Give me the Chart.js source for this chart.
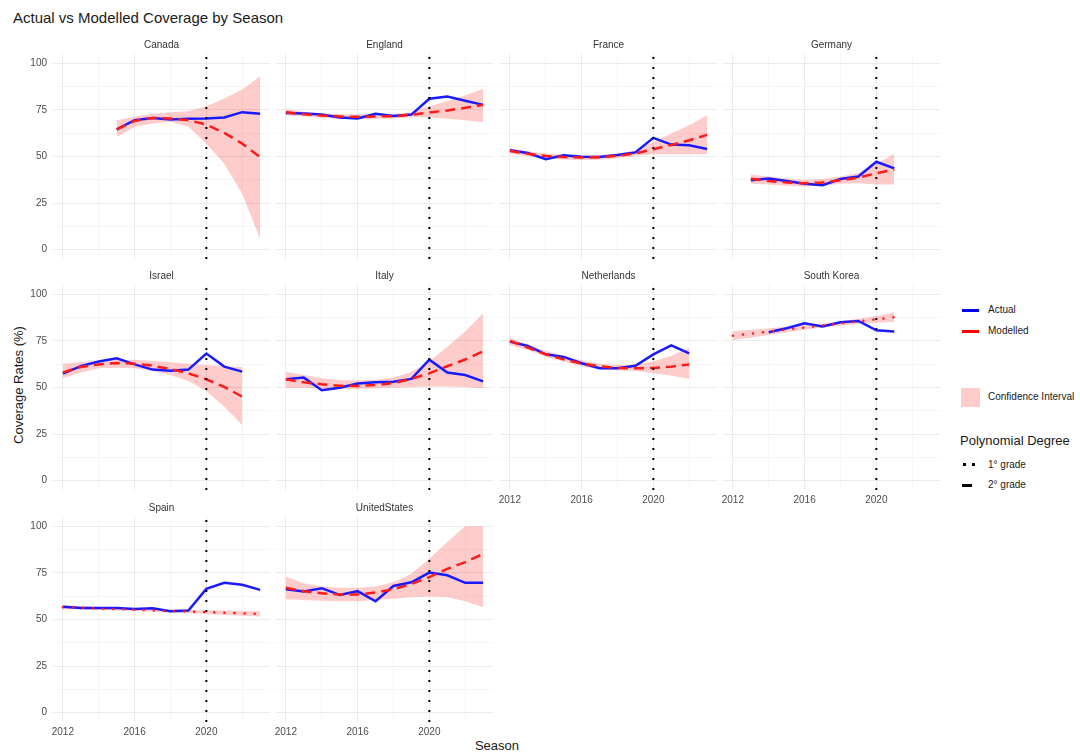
<!DOCTYPE html>
<html>
<head>
<meta charset="utf-8">
<script src="https://cdn.jsdelivr.net/npm/chart.js@4.4.1/dist/chart.umd.min.js"></script>
<style>
  body { margin: 0; background: #fff; font-family: "Liberation Sans", Arial, sans-serif; }
  #wrap { position: relative; width: 1080px; height: 752px; overflow: hidden; }
  canvas { position: absolute; }
  .txt { position: absolute; white-space: nowrap; color: #1a1a1a; }
  .lab { position: absolute; white-space: nowrap; font-size: 10px; color: #1a1a1a; line-height: 12px; }
</style>
</head>
<body>
<div id="wrap">
  <div class="txt" style="left:13px; top:9px; font-size:15px; line-height:18px;">Actual vs Modelled Coverage by Season</div>
  <div class="txt" style="left:18px; top:385px; font-size:13px; line-height:15px; transform:translate(-50%,-50%) rotate(-90deg);">Coverage Rates (%)</div>
  <div class="txt" style="left:497px; top:745px; font-size:13px; line-height:15px; transform:translate(-50%,-50%);">Season</div>

  <div style="position:absolute; left:962px; top:309px; width:17px; height:2.5px; background:#0000ff;"></div>
  <div class="lab" style="left:988px; top:304px;">Actual</div>
  <div style="position:absolute; left:962px; top:330px; width:17px; height:2.5px; background:#ff0000;"></div>
  <div class="lab" style="left:988px; top:325px;">Modelled</div>
  <div style="position:absolute; left:961px; top:388px; width:19px; height:19px; background:rgba(255,0,0,0.2);"></div>
  <div class="lab" style="left:988px; top:391px;">Confidence Interval</div>
  <div class="txt" style="left:960px; top:433px; font-size:13px; line-height:16px;">Polynomial Degree</div>
  <div style="position:absolute; left:963px; top:463px; width:2.5px; height:2.5px; background:#000;"></div>
  <div style="position:absolute; left:972px; top:463px; width:2.5px; height:2.5px; background:#000;"></div>
  <div class="lab" style="left:988px; top:459px;">1° grade</div>
  <div style="position:absolute; left:962px; top:484px; width:10px; height:2.5px; background:#000;"></div>
  <div class="lab" style="left:988px; top:479px;">2° grade</div>
</div>
<script>
// seasons and values
const canadaSeasons = [2015, 2016, 2017, 2018, 2019, 2020, 2021, 2022, 2023];
const canadaActual = [64.6, 69.5, 70.6, 69.8, 70.2, 70.4, 70.9, 73.8, 72.9];
const canadaModelled = [64.6, 69.1, 70.7, 70.4, 69.5, 67.1, 62.7, 56.9, 49.7];
const canadaLower = [60.5, 65.9, 67.7, 68.6, 65.9, 56.9, 46.1, 30.0, 5.7];
const canadaUpper = [69.5, 71.3, 73.0, 73.8, 74.3, 77.0, 81.1, 86.0, 93.0];

const englandSeasons = [2012, 2013, 2014, 2015, 2016, 2017, 2018, 2019, 2020, 2021, 2022, 2023];
const englandActual = [73.4, 73.1, 72.5, 70.9, 70.4, 72.9, 71.8, 72.5, 81.0, 82.2, 79.9, 77.7];
const englandModelled = [73.8, 72.7, 72.0, 71.5, 71.3, 71.5, 71.6, 72.4, 73.6, 74.7, 76.1, 77.7];
const englandLower = [72.2, 71.4, 70.8, 70.3, 70.1, 70.3, 70.4, 71.0, 70.9, 70.2, 69.5, 68.4];
const englandUpper = [75.4, 74.0, 73.2, 72.7, 72.5, 72.7, 72.8, 73.8, 77.0, 79.7, 82.8, 86.4];

const franceSeasons = [2012, 2013, 2014, 2015, 2016, 2017, 2018, 2019, 2020, 2021, 2022, 2023];
const franceActual = [53.3, 51.9, 48.5, 50.6, 49.9, 49.7, 50.8, 52.2, 60.0, 56.4, 56.0, 54.0];
const franceModelled = [53.0, 51.5, 50.3, 49.7, 49.4, 49.6, 50.3, 51.7, 53.9, 56.2, 58.7, 61.6];
const franceLower = [51.6, 50.2, 49.0, 48.4, 48.1, 48.3, 49.0, 50.4, 51.2, 51.2, 51.2, 51.2];
const franceUpper = [54.4, 52.8, 51.6, 51.0, 50.7, 50.9, 51.6, 53.2, 57.8, 62.3, 66.8, 72.2];

const germanySeasons = [2013, 2014, 2015, 2016, 2017, 2018, 2019, 2020, 2021];
const germanyActual = [37.2, 38.2, 36.8, 35.4, 34.6, 37.9, 39.3, 47.2, 43.6];
const germanyModelled = [38.1, 36.8, 36.1, 35.7, 36.1, 37.2, 38.6, 41.0, 43.0];
const germanyLower = [35.4, 35.0, 34.3, 33.9, 34.3, 35.4, 35.7, 35.0, 35.0];
const germanyUpper = [40.4, 39.3, 38.2, 37.5, 37.9, 39.3, 41.1, 46.1, 51.5];

const israelSeasons = [2012, 2013, 2014, 2015, 2016, 2017, 2018, 2019, 2020, 2021, 2022];
const israelActual = [57.4, 61.5, 63.9, 65.7, 62.4, 59.6, 59.0, 59.6, 68.2, 61.2, 58.5];
const israelModelled = [58.1, 61.0, 62.4, 63.1, 62.8, 61.7, 59.9, 57.6, 54.4, 50.3, 45.1];
const israelLower = [54.9, 58.1, 60.3, 60.6, 60.3, 58.9, 56.7, 53.5, 48.1, 39.7, 29.9];
const israelUpper = [62.8, 63.5, 64.2, 64.9, 64.9, 64.2, 63.5, 62.8, 62.1, 61.4, 61.0];

const italySeasons = [2012, 2013, 2014, 2015, 2016, 2017, 2018, 2019, 2020, 2021, 2022, 2023];
const italyActual = [54.4, 55.3, 48.5, 49.9, 52.1, 52.8, 53.1, 54.6, 64.9, 58.0, 56.7, 53.3];
const italyModelled = [54.4, 52.8, 51.7, 51.0, 50.8, 51.3, 52.4, 54.6, 57.6, 61.4, 65.0, 69.4];
const italyLower = [49.9, 49.9, 49.6, 49.2, 49.2, 49.6, 49.9, 50.3, 50.6, 50.6, 50.3, 49.6];
const italyUpper = [58.5, 56.7, 54.9, 54.0, 53.8, 54.2, 55.3, 58.5, 63.9, 71.9, 80.0, 89.8];

const netherlandsSeasons = [2012, 2013, 2014, 2015, 2016, 2017, 2018, 2019, 2020, 2021, 2022];
const netherlandsActual = [74.6, 72.3, 67.8, 66.4, 63.0, 60.3, 60.3, 61.7, 67.8, 72.6, 68.3];
const netherlandsModelled = [75.0, 71.4, 67.8, 65.1, 62.8, 61.4, 60.5, 60.3, 60.5, 61.2, 62.4];
const netherlandsLower = [72.8, 70.1, 66.5, 63.9, 61.4, 59.9, 59.2, 58.9, 57.6, 56.4, 54.6];
const netherlandsUpper = [76.7, 73.1, 69.6, 67.1, 64.6, 62.8, 62.1, 62.4, 63.9, 67.1, 71.4];

const koreaSeasons = [2012, 2013, 2014, 2015, 2016, 2017, 2018, 2019, 2020, 2021];
const koreaActualSeasons = [2014, 2015, 2016, 2017, 2018, 2019, 2020, 2021];
const koreaActual = [79.6, 81.8, 84.5, 82.7, 85.0, 85.7, 80.7, 80.0];
const koreaModelled = [77.8, 78.9, 80.0, 81.1, 82.2, 83.3, 84.4, 85.5, 86.6, 87.7];
const koreaLower = [75.4, 76.8, 78.2, 79.6, 81.0, 82.2, 83.2, 84.1, 84.8, 85.3];
const koreaUpper = [80.2, 81.0, 81.8, 82.6, 83.4, 84.4, 85.6, 86.9, 88.4, 90.2];

const spainSeasons = [2012, 2013, 2014, 2015, 2016, 2017, 2018, 2019, 2020, 2021, 2022, 2023];
const spainActual = [56.9, 56.2, 56.2, 56.2, 55.7, 56.0, 54.4, 54.8, 66.4, 69.7, 68.6, 65.9];
const spainModelled = [56.6, 56.3, 55.9, 55.6, 55.3, 54.9, 54.6, 54.3, 54.0, 53.6, 53.3, 53.0];
const spainLower = [55.4, 55.3, 55.0, 54.8, 54.5, 54.1, 53.8, 53.4, 53.0, 52.4, 52.0, 51.6];
const spainUpper = [57.8, 57.3, 56.8, 56.4, 56.1, 55.7, 55.4, 55.2, 55.0, 54.8, 54.6, 54.4];

const usSeasons = [2012, 2013, 2014, 2015, 2016, 2017, 2018, 2019, 2020, 2021, 2022, 2023];
const usActual = [66.2, 65.0, 66.8, 63.2, 65.2, 59.8, 68.0, 70.0, 75.2, 73.7, 69.7, 69.7];
const usModelled = [67.0, 65.2, 64.1, 63.4, 63.4, 64.5, 66.2, 69.1, 72.7, 77.2, 80.8, 85.3];
const usLower = [60.9, 60.5, 60.1, 59.8, 59.8, 60.5, 61.2, 61.9, 62.3, 61.9, 59.8, 56.6];
const usUpper = [73.1, 69.5, 67.7, 67.0, 67.0, 67.7, 70.0, 74.5, 82.6, 91.6, 100, 100];

const gridYears = [2012, 2014, 2016, 2018, 2020, 2022];
const gridRates = [0, 12.5, 25, 37.5, 50, 62.5, 75, 87.5, 100];
const breakSeason = 2020;

const panels = [
  { name: 'Canada', seasons: canadaSeasons, actual: canadaActual, modelled: canadaModelled, lower: canadaLower, upper: canadaUpper, degree: 2 },
  { name: 'England', seasons: englandSeasons, actual: englandActual, modelled: englandModelled, lower: englandLower, upper: englandUpper, degree: 2 },
  { name: 'France', seasons: franceSeasons, actual: franceActual, modelled: franceModelled, lower: franceLower, upper: franceUpper, degree: 2 },
  { name: 'Germany', seasons: germanySeasons, actual: germanyActual, modelled: germanyModelled, lower: germanyLower, upper: germanyUpper, degree: 2 },
  { name: 'Israel', seasons: israelSeasons, actual: israelActual, modelled: israelModelled, lower: israelLower, upper: israelUpper, degree: 2 },
  { name: 'Italy', seasons: italySeasons, actual: italyActual, modelled: italyModelled, lower: italyLower, upper: italyUpper, degree: 2 },
  { name: 'Netherlands', seasons: netherlandsSeasons, actual: netherlandsActual, modelled: netherlandsModelled, lower: netherlandsLower, upper: netherlandsUpper, degree: 2 },
  { name: 'South Korea', seasons: koreaSeasons, actualSeasons: koreaActualSeasons, actual: koreaActual, modelled: koreaModelled, lower: koreaLower, upper: koreaUpper, degree: 1 },
  { name: 'Spain', seasons: spainSeasons, actual: spainActual, modelled: spainModelled, lower: spainLower, upper: spainUpper, degree: 1 },
  { name: 'UnitedStates', seasons: usSeasons, actual: usActual, modelled: usModelled, lower: usLower, upper: usUpper, degree: 2 }
];

const colLeft = [53, 276, 500, 723];
const rowTop = [54, 285, 517];
const plotW = 217, plotH = 205, axW = 30, stripH = 24, axH = 18;
const tickFont = { family: 'Liberation Sans', size: 10 };

const stripTitle = {
  id: 'stripTitle',
  afterDraw(chart, args, opts) {
    const a = chart.chartArea, c = chart.ctx;
    c.save();
    c.font = '10px "Liberation Sans"';
    c.fillStyle = '#333333';
    c.textAlign = 'center';
    c.textBaseline = 'middle';
    c.fillText(opts.text, (a.left + a.right) / 2, a.top - 9);
    c.restore();
  }
};

function pts(xs, ys) {
  return xs.map((x, i) => ({ x: x, y: ys[i] }));
}

panels.forEach((p, k) => {
  const col = k % 4, row = Math.floor(k / 4);
  const showY = col === 0;
  const showX = row === 2 || (row === 1 && col >= 2);

  const canvas = document.createElement('canvas');
  canvas.width = axW + plotW + 6;
  canvas.height = stripH + plotH + axH;
  canvas.style.left = (colLeft[col] - axW) + 'px';
  canvas.style.top = (rowTop[row] - stripH) + 'px';
  document.getElementById('wrap').appendChild(canvas);

  new Chart(canvas, {
    type: 'line',
    data: {
      datasets: [
        { data: [{ x: breakSeason, y: -5 }, { x: breakSeason, y: 105 }], borderColor: '#000000', borderWidth: 2, borderDash: [2, 8], order: 0 },
        { data: pts(p.seasons, p.modelled), borderColor: '#ff1a1a', borderWidth: 2.5,
          borderDash: p.degree === 1 ? [0.1, 10] : [10, 6], borderCapStyle: p.degree === 1 ? 'round' : 'butt', order: 1 },
        { data: pts(p.actualSeasons || p.seasons, p.actual), borderColor: '#1a1aff', borderWidth: 2.5, order: 2 },
        { data: pts(p.seasons, p.upper), borderWidth: 0, borderColor: 'transparent', fill: '+1', backgroundColor: 'rgba(255,0,0,0.2)', order: 3 },
        { data: pts(p.seasons, p.lower), borderWidth: 0, borderColor: 'transparent', fill: false, order: 4 }
      ]
    },
    options: {
      responsive: false,
      animation: false,
      events: [],
      elements: { point: { radius: 0 }, line: { tension: 0 } },
      layout: { padding: { top: stripH, right: 6 } },
      plugins: { legend: { display: false }, tooltip: { enabled: false }, stripTitle: { text: p.name } },
      scales: {
        x: {
          type: 'linear', min: 2011.45, max: 2023.55,
          afterBuildTicks: s => { s.ticks = gridYears.map(v => ({ value: v })); },
          afterFit: s => { s.height = axH; },
          border: { display: false },
          grid: {
            drawTicks: false,
            color: c => (c.tick && c.tick.value % 4 === 0) ? '#ebebeb' : '#f2f2f2',
            lineWidth: c => (c.tick && c.tick.value % 4 === 0) ? 1 : 0.7
          },
          ticks: {
            display: showX, padding: 4, font: tickFont, color: '#4d4d4d', autoSkip: false, maxRotation: 0,
            callback: v => v % 4 === 0 ? String(v) : ''
          }
        },
        y: {
          min: -5, max: 105,
          afterBuildTicks: s => { s.ticks = gridRates.map(v => ({ value: v })); },
          afterFit: s => { s.width = axW; },
          border: { display: false },
          grid: {
            drawTicks: false,
            color: c => (c.tick && c.tick.value % 25 === 0) ? '#ebebeb' : '#f2f2f2',
            lineWidth: c => (c.tick && c.tick.value % 25 === 0) ? 1 : 0.7
          },
          ticks: {
            display: showY, padding: 6, font: tickFont, color: '#4d4d4d',
            callback: v => v % 25 === 0 ? String(v) : ''
          }
        }
      }
    },
    plugins: [stripTitle]
  });
});
</script>
</body>
</html>
